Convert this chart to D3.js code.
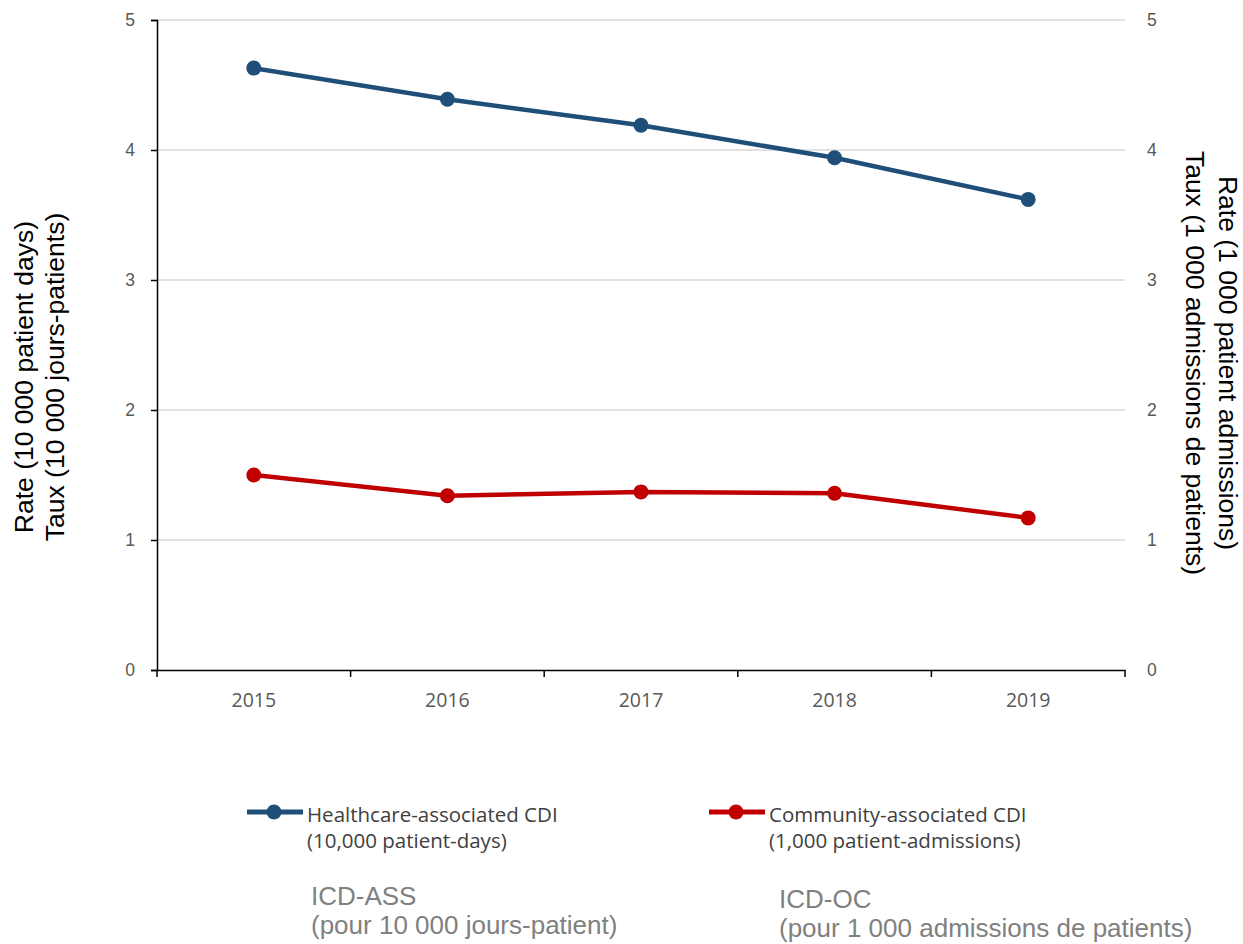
<!DOCTYPE html>
<html><head><meta charset="utf-8">
<script src="https://cdn.jsdelivr.net/npm/d3@7"></script>
<style>body{margin:0;background:#fff}</style>
</head><body>
<svg id="chart" width="1243" height="944"></svg>
<script>
const years = ["2015","2016","2017","2018","2019"];
const healthcare = [4.63, 4.39, 4.19, 3.94, 3.62];
const community = [1.50, 1.34, 1.37, 1.36, 1.17];
const yTicks = [0,1,2,3,4,5];
const seriesNames = [["Healthcare-associated CDI","(10,000 patient-days)"],["Community-associated CDI","(1,000 patient-admissions)"]];
const frenchNames = [["ICD-ASS","(pour 10 000 jours-patient)"],["ICD-OC","(pour 1 000 admissions de patients)"]];
const leftTitle = ["Rate (10 000 patient days)","Taux (10 000 jours-patients)"];
const rightTitle = ["Rate (1 000 patient admissions)","Taux (1 000 admissions de patients)"];
const colors = ["#1f4e79","#c00000"];

const svg = d3.select("#chart");
const L=157, R=1125, T=20, B=670;
const x = d3.scaleBand().domain(years).range([L,R]);
const y = d3.scaleLinear().domain([0,5]).range([B,T]);
const y2 = d3.scaleLinear().domain([0,5]).range([B,T]);
const arial = "Arial, 'Liberation Sans', sans-serif";
const cal = "'Open Sans', 'Noto Sans', sans-serif";

// gridlines
svg.append("g").selectAll("line").data(yTicks.filter(d=>d>0)).join("line")
  .attr("x1",L).attr("x2",R).attr("y1",d=>y(d)).attr("y2",d=>y(d))
  .attr("stroke","#d9d9d9").attr("stroke-width",1.3);

// left axis
const ga = svg.append("g").attr("transform",`translate(${L},0)`)
  .call(d3.axisLeft(y).tickValues(yTicks).tickSize(6).tickPadding(16).tickFormat(d3.format("d")));
ga.select(".domain").attr("stroke","#000").attr("stroke-width",1.5);
ga.selectAll(".tick line").attr("stroke","#000").attr("stroke-width",1.5);
ga.selectAll(".tick text").attr("fill","#595959").style("font-family",arial).style("font-size","17.5px");

// right axis (labels only)
const gr = svg.append("g").attr("transform",`translate(${R},0)`)
  .call(d3.axisRight(y2).tickValues(yTicks).tickSize(0).tickPadding(22).tickFormat(d3.format("d")));
gr.select(".domain").remove();
gr.selectAll(".tick text").attr("fill","#595959").style("font-family",arial).style("font-size","17.5px");

// x axis
const gx = svg.append("g").attr("transform",`translate(0,${B})`)
  .call(d3.axisBottom(x).tickSize(0).tickPadding(20));
gx.select(".domain").attr("stroke","#000").attr("stroke-width",1.5);
gx.selectAll(".tick text").attr("fill","#595959").attr("y",37).attr("dy",0)
  .style("font-family",cal).style("font-size","19.5px");
const bounds = years.map(d=>x(d)).concat([R]);
gx.append("g").selectAll("line").data(bounds).join("line")
  .attr("x1",d=>d).attr("x2",d=>d).attr("y1",0).attr("y2",7)
  .attr("stroke","#000").attr("stroke-width",1.5);

// lines
const cx = d=>x(d)+x.bandwidth()/2;
[healthcare, community].forEach((vals,i)=>{
  const data = years.map((yr,j)=>({yr, v: vals[j]}));
  const sc = i===0 ? y : y2;
  svg.append("path").datum(data)
    .attr("d", d3.line().x(d=>cx(d.yr)).y(d=>sc(d.v)))
    .attr("fill","none").attr("stroke",colors[i]).attr("stroke-width",4.5);
  svg.append("g").selectAll("circle").data(data).join("circle")
    .attr("cx",d=>cx(d.yr)).attr("cy",d=>sc(d.v)).attr("r",7.5).attr("fill",colors[i]);
});

// axis titles
const lt = svg.append("text").attr("transform","translate(0,377) rotate(-90)")
  .attr("text-anchor","middle").style("font-family",arial).style("font-size","26.5px").attr("fill","#000");
lt.append("tspan").attr("x",0).attr("y",33).text(leftTitle[0]);
lt.append("tspan").attr("x",0).attr("y",64).text(leftTitle[1]);
const rt = svg.append("text").attr("transform","translate(1243,363) rotate(90)")
  .attr("text-anchor","middle").style("font-family",arial).style("font-size","26.5px").attr("fill","#000");
rt.append("tspan").attr("x",0).attr("y",24).text(rightTitle[0]);
rt.append("tspan").attr("x",0).attr("y",57).text(rightTitle[1]);

// legend
const lx = [247, 709];
seriesNames.forEach((nm,i)=>{
  const g = svg.append("g").attr("transform",`translate(${lx[i]},812)`);
  g.append("line").attr("x1",0).attr("x2",56).attr("y1",0).attr("y2",0).attr("stroke",colors[i]).attr("stroke-width",5);
  g.append("circle").attr("cx",27).attr("cy",0).attr("r",7.5).attr("fill",colors[i]);
  const t = g.append("text").style("font-family",cal).style("font-size","20.5px").attr("fill","#404040");
  t.append("tspan").attr("x",60).attr("y",10).text(nm[0]);
  t.append("tspan").attr("x",60).attr("y",36).text(nm[1]);
});
const fx = [311, 779], fy = [905, 908];
frenchNames.forEach((nm,i)=>{
  const t = svg.append("text").style("font-family",arial).style("font-size","26px").attr("fill","#808080");
  t.append("tspan").attr("x",fx[i]).attr("y",fy[i]).text(nm[0]);
  t.append("tspan").attr("x",fx[i]).attr("y",fy[i]+29).text(nm[1]);
});
</script>
</body></html>
